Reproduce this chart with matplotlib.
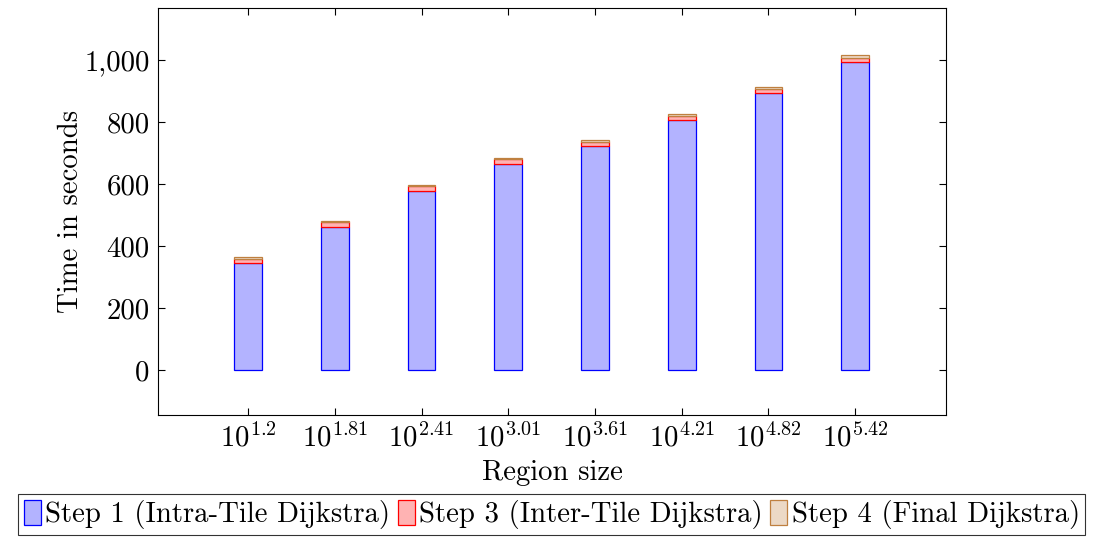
import numpy as np
import matplotlib.pyplot as plt
from matplotlib.ticker import FuncFormatter

plt.rcParams["font.family"] = ["cmr10", "DejaVu Serif"]
plt.rcParams["mathtext.fontset"] = "cm"
plt.rcParams["axes.formatter.use_mathtext"] = True

# data
region_labels = [r"$10^{1.2}$", r"$10^{1.81}$", r"$10^{2.41}$", r"$10^{3.01}$",
                 r"$10^{3.61}$", r"$10^{4.21}$", r"$10^{4.82}$", r"$10^{5.42}$"]
step1 = [345, 463, 577, 666, 722, 806, 893, 993]
step3 = [15, 14, 16, 14, 14, 13, 13, 13]
step4 = [4, 5, 5, 6, 6, 8, 7, 11]

series = [
    ("Step 1 (Intra-Tile Dijkstra)", step1, "#b3b3ff", "blue"),
    ("Step 3 (Inter-Tile Dijkstra)", step3, "#ffb3b3", "red"),
    ("Step 4 (Final Dijkstra)", step4, "#ecd9c6", "#bf8040"),
]

FS = 20.7

fig = plt.figure(figsize=(10.97, 5.44), dpi=100)
ax = fig.add_axes([0.144, 0.237, 0.7185, 0.748])

x = np.arange(len(region_labels))
bottom = np.zeros(len(x))
for label, vals, fill, edge in series:
    ax.bar(x, vals, width=0.32, bottom=bottom, color=fill, edgecolor=edge,
           linewidth=0.9, label=label)
    bottom += np.array(vals)

ax.set_xlim(-1.04, 8.05)
ax.set_ylim(-145, 1168)
ax.set_xticks(x)
ax.set_xticklabels(region_labels)
ax.set_yticks(np.arange(0, 1001, 200))
ax.yaxis.set_major_formatter(FuncFormatter(lambda v, p: f"{int(v):,}"))
ax.tick_params(direction="in", top=True, right=True, labelsize=FS, length=5, pad=6)
for s in ax.spines.values():
    s.set_linewidth(0.8)

ax.set_xlabel("Region size", fontsize=FS, labelpad=5)
ax.set_ylabel("Time in seconds", fontsize=FS, labelpad=0)

leg = fig.legend(loc="upper center", bbox_to_anchor=(0.503, 0.092), ncol=3,
                 fontsize=FS, frameon=True, fancybox=False, edgecolor="black",
                 handlelength=0.6, handleheight=1.0, handletextpad=0.15,
                 columnspacing=0.25, borderpad=0.2, borderaxespad=0)
leg.get_frame().set_linewidth(0.8)

fig.savefig("out.png", dpi=100)
